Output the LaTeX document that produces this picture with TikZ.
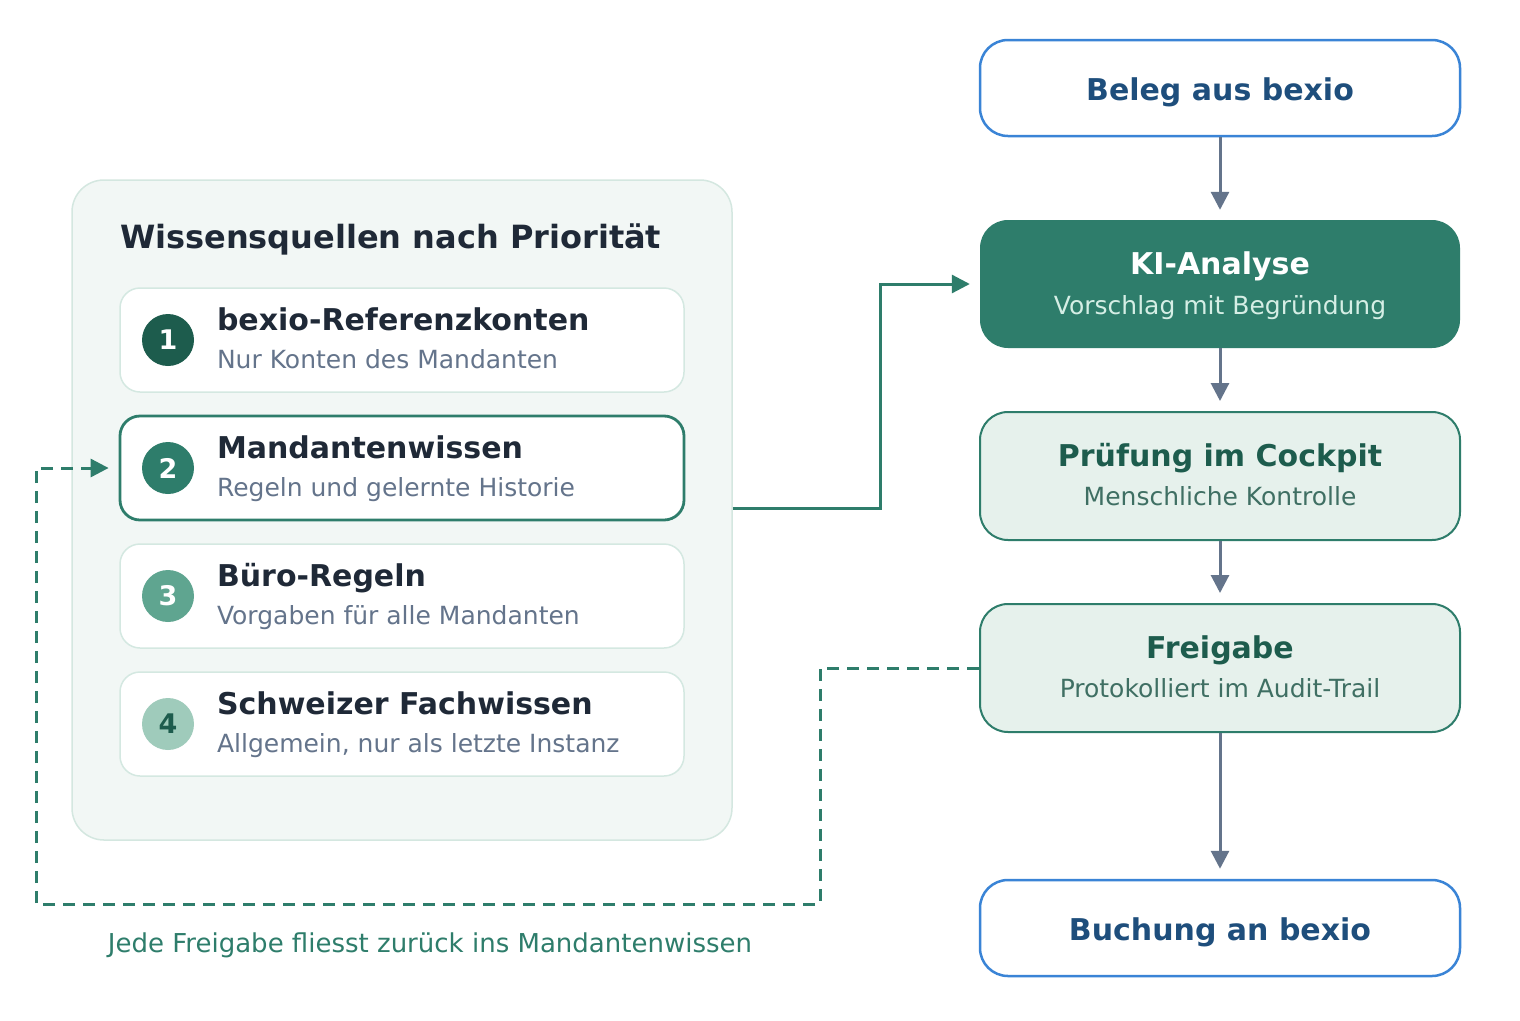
\documentclass[tikz,border=0pt]{standalone}
\usepackage{fontspec}
\setmainfont{DejaVu Sans}
\usetikzlibrary{arrows.meta,calc}
\definecolor{panelfill}{HTML}{F2F7F5}
\definecolor{panelline}{HTML}{D4E7E0}
\definecolor{itemline}{HTML}{D4E8E1}
\definecolor{green}{HTML}{2E7D6B}
\definecolor{dgreen}{HTML}{1D5C4D}
\definecolor{cthree}{HTML}{5FA590}
\definecolor{cfour}{HTML}{9FCBBB}
\definecolor{ink}{HTML}{1F2937}
\definecolor{subgray}{HTML}{64748B}
\definecolor{blueline}{HTML}{3A84D6}
\definecolor{bluetext}{HTML}{1E4E7C}
\definecolor{lightfill}{HTML}{E6F1EC}
\definecolor{lightsub}{HTML}{3F6F63}
\definecolor{kisub}{HTML}{D5EEE5}
\definecolor{arrowgray}{HTML}{64748B}
\begin{document}
\begin{tikzpicture}[x=1pt,y=-1pt,
  txt/.style={inner sep=0pt,outer sep=0pt},
  ttl/.style={txt,font=\bfseries\fontsize{30}{36}\selectfont},
  sub/.style={txt,font=\fontsize{25}{30}\selectfont},
  itembox/.style={draw=itemline,line width=1.5pt,fill=white,rounded corners=20pt,minimum width=564pt,minimum height=104pt,inner sep=0pt},
  numdot/.style={circle,minimum size=52pt,inner sep=0pt,font=\bfseries\fontsize{27}{30}\selectfont},
  flowbox/.style={rounded corners=28pt,minimum width=480pt,inner sep=0pt},
  bluebox/.style={flowbox,draw=blueline,line width=2.5pt,fill=white,minimum height=96pt},
  greenbox/.style={flowbox,draw=green,line width=2pt,fill=lightfill,minimum height=128pt},
  flowarrow/.style={draw=arrowgray,line width=3pt,-{Triangle[length=18pt,width=18pt]},shorten >=10pt},
  greenarrow/.style={draw=green,line width=3pt,-{Triangle[length=18pt,width=18pt]},shorten >=10pt},
  feedback/.style={draw=green,line width=3pt,dash pattern=on 12pt off 8pt,-{Triangle[length=18pt,width=18pt]},shorten >=10pt}
]
\useasboundingbox (0,0) rectangle (1520,1020);
\fill[white] (0,0) rectangle (1520,1020);

% left panel
\node[draw=panelline,line width=1.5pt,fill=panelfill,rounded corners=32pt,minimum width=660pt,minimum height=660pt,inner sep=0pt] (panel) at (402,510) {};
\node[txt,anchor=base west,font=\bfseries\fontsize{32}{38}\selectfont,text=ink] (ptitle) at (120,248) {Wissensquellen nach Priorität};

\node[itembox] (item1) at (402,340) {};
\node[itembox,draw=green,line width=2.8pt] (item2) at (402,468) {};
\node[itembox] (item3) at (402,596) {};
\node[itembox] (item4) at (402,724) {};

\node[numdot,fill=dgreen,text=white] (n1) at (168,340) {1};
\node[numdot,fill=green,text=white] (n2) at (168,468) {2};
\node[numdot,fill=cthree,text=white] (n3) at (168,596) {3};
\node[numdot,fill=cfour,text=dgreen] (n4) at (168,724) {4};

\node[ttl,anchor=base west,text=ink] (t1) at (217,330) {bexio-Referenzkonten};
\node[sub,anchor=base west,text=subgray] (s1) at (217,368) {Nur Konten des Mandanten};
\node[ttl,anchor=base west,text=ink] (t2) at (217,458) {Mandantenwissen};
\node[sub,anchor=base west,text=subgray] (s2) at (217,496) {Regeln und gelernte Historie};
\node[ttl,anchor=base west,text=ink] (t3) at (217,586) {Büro-Regeln};
\node[sub,anchor=base west,text=subgray] (s3) at (217,624) {Vorgaben für alle Mandanten};
\node[ttl,anchor=base west,text=ink] (t4) at (217,714) {Schweizer Fachwissen};
\node[sub,anchor=base west,text=subgray] (s4) at (217,752) {Allgemein, nur als letzte Instanz};

% right flow
\node[bluebox] (beleg) at (1220,88) {};
\node[ttl,anchor=base,text=bluetext] (belegt) at (1220,100) {Beleg aus bexio};

\node[flowbox,fill=green,minimum height=128pt] (ki) at (1220,284) {};
\node[ttl,anchor=base,text=white] (kit) at (1220,274) {KI-Analyse};
\node[sub,anchor=base,text=kisub] (kis) at (1220,314) {Vorschlag mit Begründung};

\node[greenbox] (pruef) at (1220,476) {};
\node[ttl,anchor=base,text=dgreen] (prueft) at (1220,466) {Prüfung im Cockpit};
\node[sub,anchor=base,text=lightsub] (pruefs) at (1220,505) {Menschliche Kontrolle};

\node[greenbox] (frei) at (1220,668) {};
\node[ttl,anchor=base,text=dgreen] (freit) at (1220,658) {Freigabe};
\node[sub,anchor=base,text=lightsub] (freis) at (1220,697) {Protokolliert im Audit-Trail};

\node[bluebox] (buch) at (1220,928) {};
\node[ttl,anchor=base,text=bluetext] (bucht) at (1220,940) {Buchung an bexio};

\draw[flowarrow] (beleg.south) -- (ki.north);
\draw[flowarrow] (ki.south) -- (pruef.north);
\draw[flowarrow] (pruef.south) -- (frei.north);
\draw[flowarrow] (frei.south) -- (buch.north);

% panel to KI
\coordinate (kstart) at ($(panel.east)+(0,-2)$);
\coordinate (kj) at (880,284);
\draw[greenarrow] (kstart) -| (kj) -- (ki.west);

% feedback loop
\coordinate (fb1) at (820,904);
\coordinate (fb2) at (36,904);
\draw[feedback] (frei.west) -| (fb1) -- (fb2) |- (item2.west);

\node[txt,anchor=base,font=\fontsize{26}{31}\selectfont,text=green] (foot) at (430,952) {Jede Freigabe fliesst zurück ins Mandantenwissen};
\end{tikzpicture}
\end{document}
